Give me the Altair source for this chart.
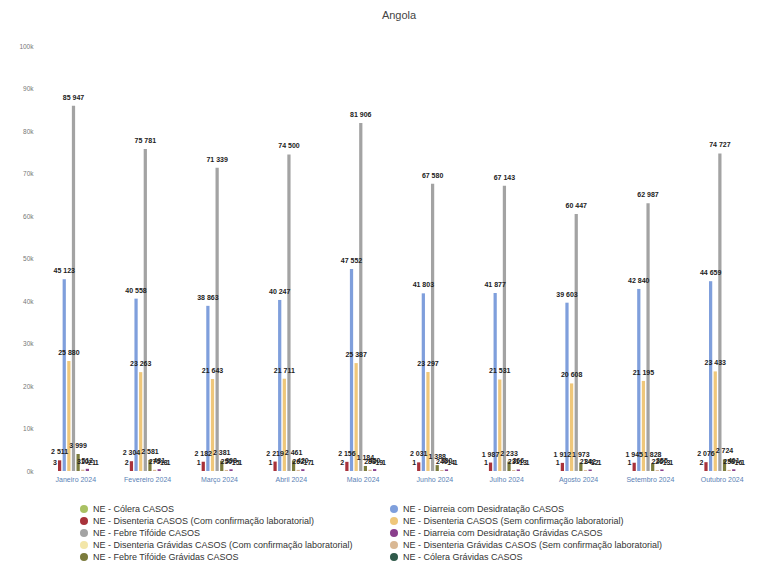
import altair as alt
import pandas as pd

months = ["Janeiro 2024", "Fevereiro 2024", "Março 2024", "Abril 2024", "Maio 2024",
          "Junho 2024", "Julho 2024", "Agosto 2024", "Setembro 2024", "Outubro 2024"]

# legend order (filled column by column)
series_legend = [
    "NE - Cólera CASOS",
    "NE - Disenteria CASOS (Com confirmação laboratorial)",
    "NE - Febre Tifóide CASOS",
    "NE - Disenteria Grávidas CASOS (Com confirmação laboratorial)",
    "NE - Febre Tifóide Grávidas CASOS",
    "NE - Diarreia com Desidratação CASOS",
    "NE - Disenteria CASOS (Sem confirmação laboratorial)",
    "NE - Diarreia com Desidratação Grávidas CASOS",
    "NE - Disenteria Grávidas CASOS (Sem confirmação laboratorial)",
    "NE - Cólera Grávidas CASOS",
]
colors = ["#a9c163", "#a8323a", "#a3a3a3", "#f3e6a8", "#7b7b3c",
          "#7f9fdc", "#efc77a", "#8a3f8c", "#d9b894", "#2f5a4a"]

# order of bars inside each month group
series_offset = [
    "NE - Cólera CASOS",
    "NE - Disenteria CASOS (Com confirmação laboratorial)",
    "NE - Diarreia com Desidratação CASOS",
    "NE - Disenteria CASOS (Sem confirmação laboratorial)",
    "NE - Febre Tifóide CASOS",
    "NE - Febre Tifóide Grávidas CASOS",
    "NE - Disenteria Grávidas CASOS (Sem confirmação laboratorial)",
    "NE - Diarreia com Desidratação Grávidas CASOS",
    "NE - Disenteria Grávidas CASOS (Com confirmação laboratorial)",
    "NE - Cólera Grávidas CASOS",
]

colera = [3, 2, 1, 1, 2, 1, 1, 1, 1, 2]
diarreia = [45123, 40558, 38863, 40247, 47552, 41803, 41877, 39603, 42840, 44659]
disenteria_com = [2511, 2304, 2182, 2219, 2156, 2031, 1987, 1912, 1945, 2076]
disenteria_sem = [25880, 23263, 21643, 21711, 25387, 23297, 21531, 20608, 21195, 23433]
febre = [85947, 75781, 71339, 74500, 81906, 67580, 67143, 60447, 62987, 74727]
diarreia_grav = [512, 431, 398, 420, 450, 380, 366, 342, 355, 401]
disenteria_grav_com = [21, 18, 15, 17, 19, 14, 13, 12, 13, 16]
disenteria_grav_sem = [310, 275, 250, 262, 288, 240, 231, 214, 226, 258]
febre_grav = [3999, 2581, 2381, 2461, 1184, 1388, 2233, 1973, 1828, 2724]
colera_grav = [1, 1, 1, 1, 1, 1, 1, 1, 1, 1]

values = {
    "NE - Cólera CASOS": colera,
    "NE - Diarreia com Desidratação CASOS": diarreia,
    "NE - Disenteria CASOS (Com confirmação laboratorial)": disenteria_com,
    "NE - Disenteria CASOS (Sem confirmação laboratorial)": disenteria_sem,
    "NE - Febre Tifóide CASOS": febre,
    "NE - Diarreia com Desidratação Grávidas CASOS": diarreia_grav,
    "NE - Disenteria Grávidas CASOS (Com confirmação laboratorial)": disenteria_grav_com,
    "NE - Disenteria Grávidas CASOS (Sem confirmação laboratorial)": disenteria_grav_sem,
    "NE - Febre Tifóide Grávidas CASOS": febre_grav,
    "NE - Cólera Grávidas CASOS": colera_grav,
}

rows = []
for s in series_legend:
    for m, v in zip(months, values[s]):
        rows.append({"mes": m, "serie": s, "valor": v,
                     "rotulo": f"{v:,}".replace(",", " ")})
df = pd.DataFrame(rows)

x_enc = alt.X("mes:N", sort=months, title=None,
              scale=alt.Scale(paddingInner=0.375),
              axis=alt.Axis(labelAngle=0, labelFontSize=7, labelColor="#5a7fb5",
                            ticks=False, domain=False, labelPadding=4))
xo_enc = alt.XOffset("serie:N", sort=series_offset,
                     scale=alt.Scale(paddingInner=0.3))

base = alt.Chart(df).encode(x=x_enc, xOffset=xo_enc)

bars = base.mark_bar().encode(
    y=alt.Y("valor:Q", title=None,
            scale=alt.Scale(domain=[0, 100000]),
            axis=alt.Axis(values=list(range(0, 100001, 10000)), format="~s",
                          labelFontSize=6.5, labelColor="#777", grid=False,
                          domain=False, ticks=False, labelPadding=6)),
    color=alt.Color("serie:N", sort=series_legend,
                    scale=alt.Scale(domain=series_legend, range=colors),
                    legend=alt.Legend(title=None, orient="none", legendX=40, legendY=458,
                                      columns=2, symbolType="circle", symbolSize=65,
                                      labelFontSize=9, labelLimit=290,
                                      rowPadding=2, columnPadding=36,
                                      labelColor="#333")),
)

labels = base.mark_text(dy=-5, baseline="bottom", fontSize=7, fontWeight="bold",
                        color="#222").encode(
    y=alt.Y("valor:Q"),
    text="rotulo:N",
)

chart = alt.layer(bars, labels).properties(
    width=720, height=425,
    title=alt.TitleParams("Angola", fontSize=11, fontWeight="normal",
                          color="#444", offset=22),
    padding={"left": 18, "top": 10, "right": 10, "bottom": 5},
).configure_view(stroke=None)

chart.save("out.html", embed_options={"renderer": "svg", "actions": False})
